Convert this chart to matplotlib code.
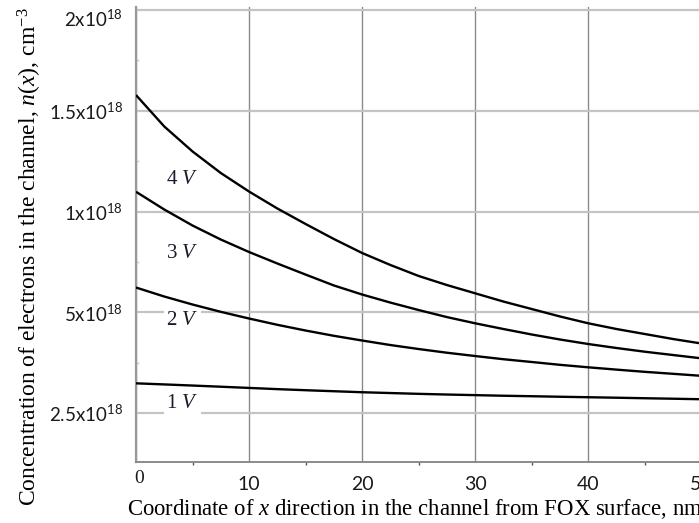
import numpy as np
import matplotlib
matplotlib.use('Agg')
import matplotlib.pyplot as plt
from matplotlib.transforms import ScaledTranslation

plt.rcParams['mathtext.fontset'] = 'custom'
plt.rcParams['mathtext.rm'] = 'Liberation Serif'
plt.rcParams['mathtext.it'] = 'Liberation Serif:italic'

# distance from FOX surface, nm
x_nm = [0, 2.5, 5, 7.5, 10, 12.5, 15, 17.5, 20, 22.5, 25,
        27.5, 30, 32.5, 35, 37.5, 40, 42.5, 45, 47.5, 50]
# electron concentration, units of 1e18 cm^-3
n_1v = [0.3237, 0.3210, 0.3182, 0.3153, 0.3123, 0.3093, 0.3066, 0.3041, 0.3016, 0.2996, 0.2976,
        0.2959, 0.2944, 0.2929, 0.2917, 0.2904, 0.2892, 0.2880, 0.2867, 0.2855, 0.2842]
n_2v = [0.6228, 0.5782, 0.5385, 0.5022, 0.4845, 0.4689, 0.4547, 0.4416, 0.4299, 0.4187, 0.4088,
        0.3996, 0.3914, 0.3835, 0.3766, 0.3696, 0.3634, 0.3577, 0.3522, 0.3473, 0.3423]
n_3v = [1.098, 1.010, 0.9305, 0.861, 0.799, 0.742, 0.687, 0.633, 0.588, 0.548, 0.511,
        0.488, 0.4726, 0.4584, 0.4448, 0.4324, 0.4212, 0.4113, 0.4021, 0.3939, 0.3857]
n_4v = [1.578, 1.422, 1.298, 1.191, 1.099, 1.015, 0.938, 0.8635, 0.794, 0.7345, 0.680,
        0.635, 0.594, 0.553, 0.516, 0.4895, 0.4726, 0.4584, 0.446, 0.4336, 0.4225]
curves = [n_1v, n_2v, n_3v, n_4v]
curve_names = ['1 $V$', '2 $V$', '3 $V$', '4 $V$']

tick_vals = [0.25, 0.5, 1.0, 1.5, 2.0]
tick_text = ['2.5x10', '5x10', '1x10', '1.5x10', '2x10']
x_ticks = [0, 10, 20, 30, 40, 50]

# the axis spaces its labelled levels evenly, so map them through knots
knot_v = [0.0, 0.25, 0.5, 1.0, 1.5, 2.0, 2.5]
knot_p = [-1, 0, 1, 2, 3, 4, 5]


def fwd(v):
    return np.interp(v, knot_v, knot_p)


def inv(p):
    return np.interp(p, knot_p, knot_v)


fig = plt.figure(figsize=(6.99, 5.23), dpi=100)
ax = fig.add_axes([136 / 699, 61 / 523, 565.5 / 699, 455 / 523])
ax.set_yscale('function', functions=(fwd, inv))
ax.set_xlim(0, 50)
ax.set_ylim(inv(-0.486), inv(4.03))

for n in curves:
    ax.plot(x_nm, n, color='black', lw=1.7, zorder=4, solid_capstyle='butt',
            solid_joinstyle='round')

# voltage tags sit just right of the y axis
tag_x = [4.1, 4.1, 4.1, 4.1]
tag_y = [0.2748, 0.479, 0.793, 1.16]
for name, tx, ty in zip(curve_names, tag_x, tag_y):
    ax.text(tx, ty, name, fontsize=15, family='Liberation Serif', color='#1a1a2a',
            ha='center', va='center', zorder=3,
            bbox=dict(facecolor='white', edgecolor='none', pad=1.5))

ax.set_xticks(x_ticks)
ax.set_xticks([5, 15, 25, 35, 45], minor=True)
ax.set_xticklabels([str(t) for t in x_ticks], fontfamily='Lato', fontsize=14)
ax.set_yticks(tick_vals)
ax.set_yticks([0.375, 0.75, 1.25, 1.75], minor=True)
ax.set_yticklabels([r'$\mathregular{%s^{18}}$' % t for t in tick_text],
                   fontfamily='Lato', fontsize=13.5)

ax.tick_params(axis='both', which='major', length=0, colors='#1a1a1a')
ax.tick_params(axis='x', which='major', pad=10)
ax.tick_params(axis='y', which='major', pad=9.5)
ax.tick_params(axis='x', which='minor', length=2, width=1, color='#555555', direction='out')
ax.tick_params(axis='y', which='minor', length=2, width=1, color='#cccccc', direction='in')

# origin label is set in serif and sits higher
lab0 = ax.get_xticklabels()[0]
lab0.set_fontfamily('Liberation Serif')
lab0.set_transform(lab0.get_transform() + ScaledTranslation(3 / 100, 5.5 / 100, fig.dpi_scale_trans))
# the top level label is pushed down inside the frame
labtop = ax.get_yticklabels()[-1]
labtop.set_transform(labtop.get_transform() + ScaledTranslation(0, -8 / 100, fig.dpi_scale_trans))

ax.grid(axis='x', which='major', color='#8a8a8a', lw=1.0, zorder=1)
ax.grid(axis='y', which='major', color='#c4c4c4', lw=1.6, zorder=1)
ax.set_axisbelow(True)

for side in ['top', 'right']:
    ax.spines[side].set_visible(False)
ax.spines['left'].set_color('#999999')
ax.spines['left'].set_linewidth(1.6)
ax.spines['bottom'].set_color('#8a8a8a')
ax.spines['bottom'].set_linewidth(1.4)

ax.set_xlabel('Coordinate of $x$ direction in the channel from FOX surface, nm',
              fontsize=16.4, family='Liberation Serif', ha='left', va='center')
ax.xaxis.set_label_coords(-0.016, -0.103)
ax.set_ylabel('Concentration of electrons in the channel, $n$($x$), cm$^{-3}$',
              fontsize=17, family='Liberation Serif', ha='center', va='center')
ax.yaxis.set_label_coords(-0.187, 0.452)

fig.savefig('out.png', dpi=100)
